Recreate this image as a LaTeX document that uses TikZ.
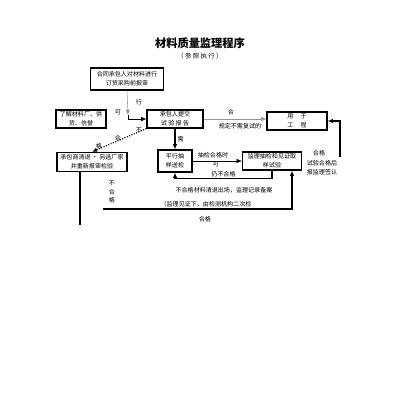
\documentclass[tikz,border=0pt]{standalone}
\usepackage{fontspec}
\setmainfont{Noto Sans CJK SC}
\usepackage{tikz}
\usetikzlibrary{arrows.meta,positioning}
\definecolor{linegray}{RGB}{150,150,150}

\begin{document}
\begin{tikzpicture}[x=0.025cm, y=-0.025cm,
  box/.style={draw, thick, rectangle, inner sep=0.5pt, align=center, font=\fontsize{4.3}{6.5}\selectfont},
  lbl/.style={font=\fontsize{4.3}{6}\selectfont, align=center, inner sep=0.5pt},
  flow/.style={-{Latex[length=1.3mm, width=1.1mm]}, thick}
]
\useasboundingbox (0,0) rectangle (400,410);

\node[font=\fontsize{8}{9}\selectfont\bfseries] (title) at (200,43) {材料质量监理程序};
\node[lbl, font=\fontsize{4.5}{6}\selectfont] (sub) at (200,56) {（ 参 照 执 行 ）};

\node[box, minimum width=1.83cm, minimum height=0.55cm] (order) at (127,79) {合同承包人对材料进行\\订货采购前报审};
\node[box, minimum width=1.25cm, minimum height=0.45cm] (vendor) at (81,119) {了解材料厂、供\\货、信誉};
\node[box, minimum width=1.4cm, minimum height=0.45cm] (report) at (175,119) {承包人提交\\试 验 报 告};
\node[box, minimum width=1.5cm, minimum height=0.45cm] (use) at (297,121) {用 \quad 于\\工 \quad 程};
\node[box, minimum width=1.75cm, minimum height=0.48cm] (reject) at (92,162) {承包商清退 · 另选厂家\\并重新报审检验};
\node[box, minimum width=0.85cm, minimum height=0.55cm] (sample) at (175,161) {平行抽\\样送检};
\node[box, minimum width=1.48cm, minimum height=0.45cm] (retest) at (272,161) {监理抽检和见证取\\样试验};

\coordinate (jn) at (128,115);
\coordinate (rc) at (340,157);
\coordinate (bl) at (103,209);
\coordinate (lc) at (80,225);

% Connections
\draw[flow, linegray, thin] (order.south) -- (jn);
\draw[flow, thin] (jn) |- (report.west);
\node[lbl] at (118,112) {可};
\node[lbl] at (139,102) {行};

\draw[flow, densely dotted] (report.south west) -- (reject.north);
\node[lbl] at (139,130) {不};
\node[lbl] at (118,138) {合};
\node[lbl] at (99,146) {格};

\draw[flow] (report.south) -- node[lbl, right=1pt] {需} (sample.north);
\draw[flow, linegray, thin] (report.east) -- (report.east -| use.west);
\node[lbl] at (231,112) {合};
\node[lbl] at (240,126) {规定不需复试的};

\draw[flow, thin] (sample.east) -- (retest.west);
\node[lbl] at (213,155) {抽检合格时};
\node[lbl] at (216,164) {可};

\draw[flow] (retest.south) -- ++(0,8) -| node[lbl, pos=0.25, above=0.5pt] {仍不合格} (sample.south);
\node[lbl] at (224,190) {不合格材料清退出场，监理记录备案};

\draw[flow] (bl) -| ([xshift=0.5cm]retest.south);
\node[lbl] at (206,204) {（监理见证下，由检测机构二次检};
\node[lbl] at (205,219) {合格};

\draw[flow] (rc) |- (use.east);
\node[lbl] at (319,153) {合格};
\node[lbl] at (322,163) {试验合格后};
\node[lbl] at (322,172) {报监理签认};

\draw[thick] (reject.south -| lc) -- (lc);
\node[lbl] at (112,192) {不\\合\\格};

\end{tikzpicture}
\end{document}
